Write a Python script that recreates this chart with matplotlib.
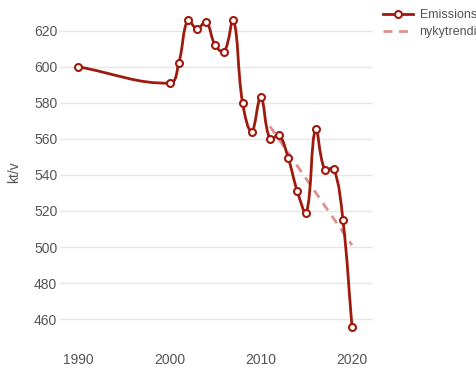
import matplotlib.pyplot as plt
from matplotlib.path import Path
from matplotlib.patches import PathPatch
from matplotlib.lines import Line2D

# data
years = [1990, 2000, 2001, 2002, 2003, 2004, 2005, 2006, 2007, 2008, 2009, 2010,
         2011, 2012, 2013, 2014, 2015, 2016, 2017, 2018, 2019, 2020]
emissions = [600, 591, 602, 626, 621, 625, 612, 608.5, 626, 580, 564, 583,
             560, 562, 549.5, 531, 519, 565.5, 543, 543.5, 515, 455.5]
trend_years = [2011, 2020]
trend_values = [567, 501]

RED = '#9e1a0f'
TREND = '#e0908c'
GREY = '#555555'


def spline_path(ax, xs, ys, tension=0.4):
    # krivaya s natyazheniem, schitaem v pikselyah
    pts = ax.transData.transform(list(zip(xs, ys)))
    n = len(pts)
    prev_c = []
    next_c = []
    for i in range(n):
        cur = pts[i]
        prv = pts[i - 1] if i > 0 else cur
        nxt = pts[i + 1] if i < n - 1 else cur
        d01 = ((cur - prv) ** 2).sum() ** 0.5
        d12 = ((nxt - cur) ** 2).sum() ** 0.5
        s01 = d01 / (d01 + d12)
        s12 = d12 / (d01 + d12)
        prev_c.append(cur - tension * s01 * (nxt - prv))
        next_c.append(cur + tension * s12 * (nxt - prv))
    verts = [pts[0]]
    codes = [Path.MOVETO]
    for i in range(1, n):
        verts += [next_c[i - 1], prev_c[i], pts[i]]
        codes += [Path.CURVE4] * 3
    inv = ax.transData.inverted()
    return Path(inv.transform(verts), codes)


fig = plt.figure(figsize=(4.77, 3.73), dpi=100)
plt.rcParams['font.family'] = ['Liberation Sans', 'DejaVu Sans']
ax = fig.add_axes([0.126, 0.088, 0.656, 0.899])
ax.set_xlim(1988.0, 2022.3)
ax.set_ylim(448.3, 634.4)

ax.plot(trend_years, trend_values, color=TREND, lw=2, dashes=(3.2, 2.4), zorder=2)
ax.add_patch(PathPatch(spline_path(ax, years, emissions), facecolor='none',
                       edgecolor=RED, lw=2, zorder=3, capstyle='round', joinstyle='round'))
ax.plot(years, emissions, linestyle='none', marker='o', markersize=5,
        markerfacecolor='white', markeredgecolor=RED, markeredgewidth=1.5, zorder=4)

ax.set_xticks([1990, 2000, 2010, 2020])
ax.set_yticks([460, 480, 500, 520, 540, 560, 580, 600, 620])
ax.grid(axis='y', color='#e6e6e6', lw=1)
ax.set_axisbelow(True)
for s in ax.spines.values():
    s.set_visible(False)
ax.tick_params(length=0, labelsize=10, colors=GREY)
ax.tick_params(axis='x', pad=9)
ax.tick_params(axis='y', pad=2)
ax.set_ylabel('kt/v', fontsize=10, color=GREY, labelpad=9)

handles = [Line2D([], [], color=RED, lw=2, marker='o', markersize=5,
                  markerfacecolor='white', markeredgecolor=RED, markeredgewidth=1.5),
           Line2D([], [], color=TREND, lw=2, dashes=(3.2, 2.4))]
fig.legend(handles, ['Emissions', 'nykytrendi'], loc='upper left',
           bbox_to_anchor=(0.780, 1.005), frameon=False, fontsize=9,
           labelcolor=GREY, handlelength=2.4, handletextpad=0.5, labelspacing=0.4)

fig.savefig('out.png', dpi=100)
